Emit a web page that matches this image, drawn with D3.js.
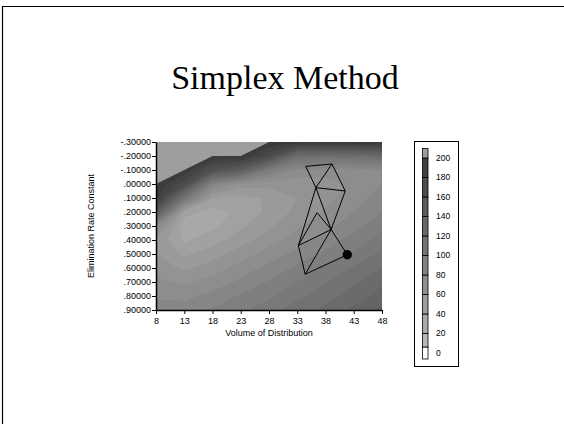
<!DOCTYPE html>
<html>
<head>
<meta charset="utf-8">
<script src="https://cdn.jsdelivr.net/npm/d3@7"></script>
<style>
  body { margin: 0; background: #fff; }
  text { font-family: "Liberation Sans", Arial, sans-serif; }
</style>
</head>
<body>
<svg id="chart" width="564" height="424"></svg>
<script>
// Grid axes of the response surface
const volumes = [8, 13, 18, 23, 28, 33, 38, 43, 48];
const rates = [-0.3, -0.2, -0.1, 0.0, 0.1, 0.2, 0.3, 0.4, 0.5, 0.6, 0.7, 0.8, 0.9];
const yTickLabels = ["-.30000", "-.20000", "-.10000", ".00000", ".10000", ".20000", ".30000",
                     ".40000", ".50000", ".60000", ".70000", ".80000", ".90000"];

// Objective value on the grid, one row per elimination rate (top to bottom)
const surface = [
  [199, 199, 199, 199, 199, 197, 197, 198, 199],
  [199, 199, 199, 199, 172, 120, 118, 118, 124],
  [199, 199, 162, 145,  98,  78,  75,  75,  80],
  [199, 172,  88,  65,  63,  63,  66,  72,  80],
  [196, 110,  50,  45,  52,  60,  67,  75,  84],
  [150,  45,  35,  43,  52,  63,  71,  80,  90],
  [ 80,  32,  37,  48,  58,  68,  77,  86,  97],
  [ 58,  38,  46,  55,  66,  75,  85,  94, 105],
  [ 60,  48,  55,  65,  74,  83,  92, 102, 112],
  [ 66,  58,  65,  74,  83,  92, 102, 111, 120],
  [ 72,  68,  74,  82,  91, 100, 109, 118, 128],
  [ 78,  77,  83,  91,  98, 108, 115, 125, 134],
  [ 85,  85,  91,  98, 106, 114, 123, 132, 142]
];

// Shading ramp: gray level for an objective value
const grayAt = v => Math.round(191 - 0.67 * v);
const contourLevels = d3.range(0, 200, 10);

// Colour key: 20-unit classes, plus the out-of-range class on top
const legendLabels = [0, 20, 40, 60, 80, 100, 120, 140, 160, 180, 200];
const noDataGray = 158;

// Region with no valid fit (upper left)
const noDataRegion = [[8, -0.3], [8, 0.0], [18, -0.2], [23, -0.2], [28, -0.3]];

// Simplex vertices (volume, rate) and the edges of its triangles
const vertexNames = ["A", "B", "C", "D", "E", "F", "G", "H"];
const vertexVolume = [34.5, 39.15, 36.3, 41.5, 36.5, 39.0, 33.2, 34.4];
const vertexRate = [-0.126, -0.143, 0.026, 0.05, 0.205, 0.325, 0.44, 0.645];
const bestPoint = { volume: 41.85, rate: 0.505 };
const simplexEdges = [
  ["A", "B"], ["A", "C"], ["B", "C"], ["B", "D"], ["C", "D"],
  ["C", "F"], ["D", "F"], ["C", "G"], ["E", "G"], ["E", "F"],
  ["G", "F"], ["F", "H"], ["G", "H"], ["F", "best"], ["H", "best"]
];

const svg = d3.select("#chart");
const gray = g => d3.rgb(g, g, g).toString();

// Slide frame
svg.append("path")
  .attr("d", "M2.5,424 V6.5 H564")
  .attr("fill", "none").attr("stroke", "#000").attr("stroke-width", 1.2);

// Title
svg.append("text")
  .attr("x", 285).attr("y", 89)
  .attr("text-anchor", "middle")
  .style("font-family", "'Liberation Serif', 'Times New Roman', serif")
  .style("font-size", "34px")
  .text("Simplex Method");

const x = d3.scaleLinear().domain([8, 48]).range([156, 382]);
const y = d3.scaleLinear().domain([-0.3, 0.9]).range([142, 310]);

// Clip to plotting area
svg.append("clipPath").attr("id", "plotClip")
  .append("rect")
  .attr("x", x(8)).attr("y", y(-0.3))
  .attr("width", x(48) - x(8)).attr("height", y(0.9) - y(-0.3));

const plot = svg.append("g").attr("clip-path", "url(#plotClip)");

// Filled contours: grid index i sits at i + 0.5 in contour space
const nx = volumes.length, ny = rates.length;
const gx = d3.scaleLinear().domain([0.5, nx - 0.5]).range([x(volumes[0]), x(volumes[nx - 1])]);
const gy = d3.scaleLinear().domain([0.5, ny - 0.5]).range([y(rates[0]), y(rates[ny - 1])]);
const projection = d3.geoTransform({
  point: function(px, py) { this.stream.point(gx(px), gy(py)); }
});
const contourPath = d3.geoPath(projection);
const bands = d3.contours().size([nx, ny]).thresholds(contourLevels)(surface.flat());

plot.selectAll("path.band")
  .data(bands)
  .join("path")
  .attr("class", "band")
  .attr("d", contourPath)
  .attr("fill", d => gray(grayAt(d.value + 5)))
  .attr("stroke", d => gray(grayAt(d.value + 5)))
  .attr("stroke-width", 0.5);

plot.append("path")
  .attr("d", d3.line().x(d => x(d[0])).y(d => y(d[1]))(noDataRegion) + "Z")
  .attr("fill", gray(noDataGray));

// Simplex
const vertexPos = {};
vertexNames.forEach((n, i) => { vertexPos[n] = [vertexVolume[i], vertexRate[i]]; });
vertexPos.best = [bestPoint.volume, bestPoint.rate];

plot.selectAll("line.edge")
  .data(simplexEdges)
  .join("line")
  .attr("class", "edge")
  .attr("x1", d => x(vertexPos[d[0]][0])).attr("y1", d => y(vertexPos[d[0]][1]))
  .attr("x2", d => x(vertexPos[d[1]][0])).attr("y2", d => y(vertexPos[d[1]][1]))
  .attr("stroke", "#000").attr("stroke-width", 1);

plot.append("circle")
  .attr("cx", x(bestPoint.volume)).attr("cy", y(bestPoint.rate))
  .attr("r", 4.7).attr("fill", "#000");

// Axes
const xAxis = d3.axisBottom(x).tickValues(volumes).tickSize(4).tickSizeOuter(0);
const yAxis = d3.axisLeft(y).tickValues(rates).tickFormat((d, i) => yTickLabels[i]).tickSize(4).tickSizeOuter(0);

const gxAxis = svg.append("g").attr("transform", `translate(0,${y(0.9)})`).call(xAxis);
const gyAxis = svg.append("g").attr("transform", `translate(${x(8)},0)`).call(yAxis);
[gxAxis, gyAxis].forEach(g => {
  g.select(".domain").attr("stroke-width", 1.5);
  g.selectAll(".tick line").attr("stroke-width", 1);
  g.selectAll("text").style("font-family", "'Liberation Sans', Arial, sans-serif")
    .style("font-size", "9px").attr("fill", "#000");
});
gxAxis.selectAll("text").attr("dy", "0.71em").attr("y", 8);
gyAxis.selectAll("text").attr("x", -5);

svg.append("text")
  .attr("x", (x(8) + x(48)) / 2).attr("y", 336)
  .attr("text-anchor", "middle").style("font-size", "9px")
  .text("Volume of Distribution");

svg.append("text")
  .attr("transform", `translate(94,${(y(-0.3) + y(0.9)) / 2}) rotate(-90)`)
  .attr("text-anchor", "middle").style("font-size", "9px")
  .text("Elimination Rate Constant");

// Legend
const legend = svg.append("g");
legend.append("rect")
  .attr("x", 414.5).attr("y", 141.5).attr("width", 44).attr("height", 225)
  .attr("fill", "#fff").attr("stroke", "#000").attr("stroke-width", 1);

const ly = d3.scaleLinear().domain([0, 200]).range([353, 158]);
const cellX = 422.5, cellW = 5.5;
const cells = legendLabels.slice(0, -1).map(lv => ({
  top: ly(lv + 20),
  bottom: ly(lv),
  fill: gray(grayAt(lv + 10))
}));
cells.push({ top: 148.5, bottom: ly(200), fill: gray(noDataGray) });
cells[0].bottom = ly(0) - 6;
cells.unshift({ top: ly(0) - 6, bottom: 359, fill: "#fff" });

legend.selectAll("rect.cell")
  .data(cells)
  .join("rect")
  .attr("class", "cell")
  .attr("x", cellX).attr("width", cellW)
  .attr("y", d => d.top).attr("height", d => d.bottom - d.top)
  .attr("fill", d => d.fill)
  .attr("stroke", "#000").attr("stroke-width", 0.8);

legend.selectAll("text.lab")
  .data(legendLabels)
  .join("text")
  .attr("class", "lab")
  .attr("x", 436).attr("y", d => ly(d))
  .attr("dy", "0.35em")
  .style("font-size", "8.5px")
  .text(d => d);
</script>
</body>
</html>
